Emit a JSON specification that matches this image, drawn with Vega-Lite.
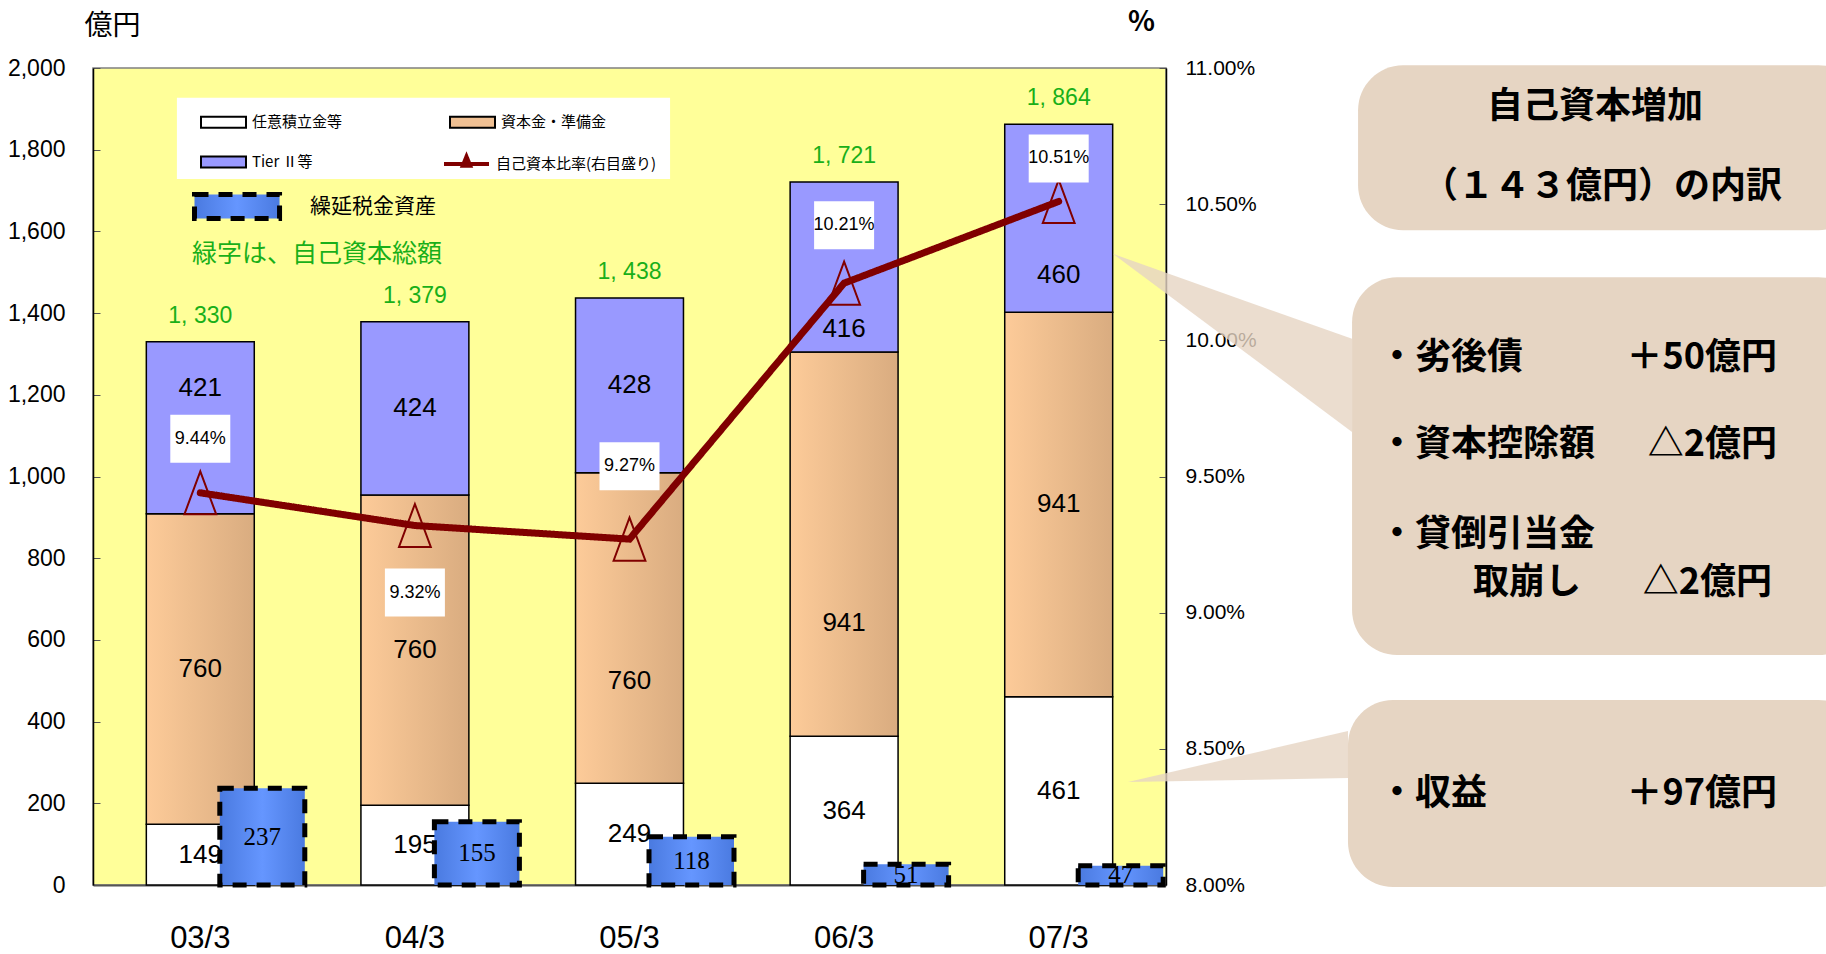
{
  "$schema": "https://vega.github.io/schema/vega-lite/v6.json",
  "width": 1073,
  "height": 817,
  "autosize": "none",
  "padding": {"left": 93, "top": 68, "right": 660, "bottom": 69},
  "config": {
    "font": "Liberation Sans, Arial, sans-serif",
    "view": {"fill": "#FFFF99", "stroke": "#808080", "strokeWidth": 1.5},
    "locale": {"number": {"decimal": ".", "thousands": ", ", "grouping": [3], "currency": ["", ""]}},
    "axis": {"grid": false, "labelColor": "black"},
    "legend": {"labelColor": "black"}
  },
  "datasets": {
    "stack": [
      {"year": "03/3", "series": "任意積立金等", "level": 1, "value": 149},
      {"year": "03/3", "series": "資本金・準備金", "level": 2, "value": 760},
      {"year": "03/3", "series": "Tier Ⅱ等", "level": 3, "value": 421},
      {"year": "04/3", "series": "任意積立金等", "level": 1, "value": 195},
      {"year": "04/3", "series": "資本金・準備金", "level": 2, "value": 760},
      {"year": "04/3", "series": "Tier Ⅱ等", "level": 3, "value": 424},
      {"year": "05/3", "series": "任意積立金等", "level": 1, "value": 249},
      {"year": "05/3", "series": "資本金・準備金", "level": 2, "value": 760},
      {"year": "05/3", "series": "Tier Ⅱ等", "level": 3, "value": 428},
      {"year": "06/3", "series": "任意積立金等", "level": 1, "value": 364},
      {"year": "06/3", "series": "資本金・準備金", "level": 2, "value": 941},
      {"year": "06/3", "series": "Tier Ⅱ等", "level": 3, "value": 416},
      {"year": "07/3", "series": "任意積立金等", "level": 1, "value": 461},
      {"year": "07/3", "series": "資本金・準備金", "level": 2, "value": 941},
      {"year": "07/3", "series": "Tier Ⅱ等", "level": 3, "value": 460}
    ],
    "years": [
      {"year": "03/3", "total": 1330, "ratio": 0.0944, "dta": 237},
      {"year": "04/3", "total": 1379, "ratio": 0.0932, "dta": 155},
      {"year": "05/3", "total": 1438, "ratio": 0.0927, "dta": 118},
      {"year": "06/3", "total": 1721, "ratio": 0.1021, "dta": 51},
      {"year": "07/3", "total": 1864, "ratio": 0.1051, "dta": 47}
    ],
    "legendbox": [
      {"x": -0.109, "x2": 2.189, "y": 1927, "y2": 1728}
    ],
    "boxes": [
      {"x": 5.395, "x2": 7.75, "y": 2007, "y2": 1603},
      {"x": 5.367, "x2": 7.75, "y": 1488, "y2": 563},
      {"x": 5.348, "x2": 7.75, "y": 453, "y2": -5}
    ],
    "wedges": [
      {"w": "a", "x": 4.253, "top": 1545, "bottom": 1545},
      {"w": "a", "x": 5.367, "top": 1337, "bottom": 1109},
      {"w": "b", "x": 4.323, "top": 252, "bottom": 252},
      {"w": "b", "x": 5.348, "top": 377, "bottom": 262}
    ],
    "heads": [
      {"text": "自己資本増加", "x": 6.499, "y": 1905},
      {"text": "（１４３億円）の内訳", "x": 6.532, "y": 1709}
    ],
    "items": [
      {"text": "・劣後債", "x": 5.493, "y": 1290},
      {"text": "・資本控除額", "x": 5.493, "y": 1077},
      {"text": "・貸倒引当金", "x": 5.493, "y": 856},
      {"text": "取崩し", "x": 5.931, "y": 740},
      {"text": "・収益", "x": 5.493, "y": 223}
    ],
    "amounts": [
      {"text": "＋50億円", "x": 7.347, "y": 1290},
      {"text": "△2億円", "x": 7.347, "y": 1077},
      {"text": "△2億円", "x": 7.324, "y": 740},
      {"text": "＋97億円", "x": 7.347, "y": 223}
    ]
  },
  "layer": [
    {
      "data": {"name": "legendbox"},
      "mark": {"type": "rect", "color": "white"},
      "encoding": {
        "x": {"field": "x", "type": "quantitative", "scale": {"domain": [-0.5, 4.5], "nice": false, "zero": false}, "axis": null},
        "x2": {"field": "x2"},
        "y": {"field": "y", "type": "quantitative", "scale": {"domain": [0, 2000], "nice": false, "zero": false}, "axis": null},
        "y2": {"field": "y2"}
      }
    },
    {
      "data": {"name": "stack"},
      "mark": {"type": "bar", "stroke": "black", "strokeWidth": 1.5, "width": {"band": 0.503}},
      "encoding": {
        "x": {
          "field": "year", "type": "nominal",
          "scale": {"paddingInner": 0, "paddingOuter": 0},
          "axis": {"title": null, "labelAngle": 0, "labelFontSize": 31, "labelPadding": 38, "ticks": false, "domainColor": "#555555", "domainWidth": 2}
        },
        "y": {
          "field": "value", "type": "quantitative", "stack": "zero",
          "scale": {"domain": [0, 2000], "nice": false},
          "axis": {
            "values": [0, 200, 400, 600, 800, 1000, 1200, 1400, 1600, 1800, 2000],
            "labelExpr": "replace(datum.label, ' ', '')",
            "labelFontSize": 23, "tickSize": -7, "tickColor": "#555555", "labelPadding": 35,
            "domainColor": "black", "domainWidth": 1.5,
            "title": "億円", "titleAngle": 0, "titleX": 19, "titleY": -42, "titleAlign": "center", "titleBaseline": "middle",
            "titleFont": "Noto Sans CJK JP", "titleFontSize": 28, "titleFontWeight": "normal", "titleColor": "black"
          }
        },
        "order": {"field": "level", "type": "quantitative", "sort": "ascending"},
        "fill": {
          "field": "series", "type": "nominal",
          "scale": {
            "domain": ["任意積立金等", "資本金・準備金", "Tier Ⅱ等"],
            "range": ["#FFFFFF", "#F0C093", "#9999FF"]
          },
          "condition": {
            "test": "datum.series === '資本金・準備金'",
            "value": {"gradient": "linear", "x1": 0, "x2": 1, "y1": 0, "y2": 0, "stops": [{"offset": 0, "color": "#FDCB99"}, {"offset": 1, "color": "#D9AC80"}]}
          },
          "legend": {
            "orient": "none", "legendX": 84, "legendY": 30, "title": null, "columns": 2, "direction": "horizontal",
            "padding": 8, "zindex": 0,
            "symbolType": "M0,-0.37H3V0.37H0Z", "symbolSize": 900, "symbolStrokeWidth": 2, "symbolStrokeColor": "black",
            "labelFont": "Noto Sans CJK JP", "labelFontSize": 15, "labelOffset": 35, "labelLimit": 400,
            "columnPadding": 91, "rowPadding": 14
          }
        }
      }
    },
    {
      "data": {"name": "years"},
      "mark": {
        "type": "bar", "width": 85, "xOffset": 62, "strokeWidth": 5, "strokeDash": [14, 10],
        "fill": {"gradient": "linear", "x1": 0, "x2": 1, "y1": 0, "y2": 0, "stops": [{"offset": 0, "color": "#4A7AE0"}, {"offset": 0.5, "color": "#6596FF"}, {"offset": 1, "color": "#4A7AE0"}]}
      },
      "encoding": {
        "x": {"field": "year", "type": "nominal", "scale": {"paddingInner": 0, "paddingOuter": 0}, "axis": null},
        "y": {"field": "dta", "type": "quantitative", "scale": {"domain": [0, 2000], "nice": false}, "axis": null},
        "stroke": {
          "datum": "繰延税金資産", "type": "nominal",
          "scale": {"range": ["black"]},
          "legend": {
            "orient": "none", "legendX": 99, "legendY": 121, "padding": 0,
            "title": "緑字は、自己資本総額", "titleOrient": "bottom", "titleColor": "#19AF19",
            "titleFont": "Noto Sans CJK JP", "titleFontSize": 25, "titleFontWeight": "normal", "titlePadding": 13, "titleLimit": 600,
            "symbolType": "M-1,-0.8H4.67V0.8H-1Z", "symbolSize": 900,
            "symbolDash": [14, 10], "symbolStrokeWidth": 5, "symbolFillColor": "#5B8DF0",
            "labelFont": "Noto Sans CJK JP", "labelFontSize": 21, "labelOffset": 83, "labelLimit": 400
          }
        }
      }
    },
    {
      "data": {"name": "years"},
      "mark": {"type": "text", "xOffset": 62, "font": "Liberation Serif, serif", "fontSize": 25, "baseline": "middle", "color": "black", "dy": {"expr": "datum.dta * 408.5 / 2000"}},
      "encoding": {
        "x": {"field": "year", "type": "nominal", "scale": {"paddingInner": 0, "paddingOuter": 0}, "axis": null},
        "y": {"field": "dta", "type": "quantitative", "scale": {"domain": [0, 2000], "nice": false}, "axis": null},
        "text": {"field": "dta", "type": "quantitative"}
      }
    },
    {
      "data": {"name": "stack"},
      "mark": {
        "type": "text", "fontSize": 26, "baseline": "middle", "color": "black",
        "dy": {"expr": "datum.value * 408.5 / 2000 + (datum.year === '03/3' && datum.level === 3 ? -40 : datum.year === '06/3' && datum.level === 3 ? 62 : datum.year === '07/3' && datum.level === 3 ? 57 : datum.year === '06/3' && datum.level === 2 ? 79 : datum.year === '05/3' && datum.level === 2 ? 53 : 0)"}
      },
      "encoding": {
        "x": {"field": "year", "type": "nominal", "scale": {"paddingInner": 0, "paddingOuter": 0}, "axis": null},
        "y": {"field": "value", "type": "quantitative", "stack": "zero", "scale": {"domain": [0, 2000], "nice": false}, "axis": null},
        "order": {"field": "level", "type": "quantitative", "sort": "ascending"},
        "detail": {"field": "series", "type": "nominal"},
        "text": {"field": "value", "type": "quantitative"}
      }
    },
    {
      "data": {"name": "years"},
      "mark": {"type": "text", "fontSize": 23, "baseline": "alphabetic", "dy": -19, "color": "#19AF19"},
      "encoding": {
        "x": {"field": "year", "type": "nominal", "scale": {"paddingInner": 0, "paddingOuter": 0}, "axis": null},
        "y": {"field": "total", "type": "quantitative", "scale": {"domain": [0, 2000], "nice": false}, "axis": null},
        "text": {"field": "total", "type": "quantitative", "format": ","}
      }
    },
    {
      "data": {"name": "years"},
      "mark": {"type": "point", "shape": "M0,-1L0.74,1L-0.74,1Z", "filled": false, "stroke": "#800000", "strokeWidth": 2, "size": 1849, "opacity": 1},
      "encoding": {
        "x": {"field": "year", "type": "nominal", "scale": {"paddingInner": 0, "paddingOuter": 0}, "axis": null},
        "y": {
          "field": "ratio", "type": "quantitative",
          "scale": {"domain": [0.08, 0.11], "nice": false, "zero": false},
          "axis": {
            "orient": "right",
            "values": [0.08, 0.085, 0.09, 0.095, 0.1, 0.105, 0.11],
            "format": ".2%", "labelFontSize": 21, "tickSize": -7, "tickColor": "#555555", "labelPadding": 26,
            "domainColor": "black", "domainWidth": 1.5,
            "title": "%", "titleAngle": 0, "titleX": -25, "titleY": -46, "titleAlign": "center", "titleBaseline": "middle",
            "titleFont": "Noto Sans CJK JP", "titleFontSize": 28, "titleFontWeight": "bold", "titleColor": "black"
          }
        }
      }
    },
    {
      "data": {"name": "years"},
      "mark": {"type": "line", "color": "#800000", "strokeWidth": 7, "strokeCap": "round"},
      "encoding": {
        "x": {"field": "year", "type": "nominal", "scale": {"paddingInner": 0, "paddingOuter": 0}, "axis": null},
        "y": {"field": "ratio", "type": "quantitative", "scale": {"domain": [0.08, 0.11], "nice": false, "zero": false}, "axis": null},
        "strokeDash": {
          "datum": "自己資本比率(右目盛り)", "type": "nominal",
          "scale": {"range": [[1, 0]]},
          "legend": {
            "orient": "none", "legendX": 334, "legendY": 79, "padding": 0, "title": null, "zindex": 1,
            "symbolType": "M0,0H3 M1.25,0.12L1.5,-0.5L1.75,0.12Z", "symbolSize": 900,
            "symbolStrokeWidth": 4, "symbolStrokeColor": "#800000", "symbolFillColor": "#800000",
            "labelFont": "Noto Sans CJK JP", "labelFontSize": 15, "labelOffset": 35, "labelLimit": 400
          }
        }
      }
    },
    {
      "data": {"name": "years"},
      "mark": {
        "type": "point", "shape": "M-1.25,-1H1.25V1H-1.25Z", "filled": true, "color": "white", "opacity": 1, "size": 2304,
        "yOffset": {"expr": "datum.year === '04/3' ? 67 : datum.year === '05/3' ? -73 : datum.year === '07/3' ? -43 : datum.year === '03/3' ? -54 : -58"}
      },
      "encoding": {
        "x": {"field": "year", "type": "nominal", "scale": {"paddingInner": 0, "paddingOuter": 0}, "axis": null},
        "y": {"field": "ratio", "type": "quantitative", "scale": {"domain": [0.08, 0.11], "nice": false, "zero": false}, "axis": null}
      }
    },
    {
      "data": {"name": "years"},
      "mark": {
        "type": "text", "fontSize": 18, "baseline": "middle", "color": "black",
        "yOffset": {"expr": "datum.year === '04/3' ? 67 : datum.year === '05/3' ? -73 : datum.year === '07/3' ? -43 : datum.year === '03/3' ? -54 : -58"}
      },
      "encoding": {
        "x": {"field": "year", "type": "nominal", "scale": {"paddingInner": 0, "paddingOuter": 0}, "axis": null},
        "y": {"field": "ratio", "type": "quantitative", "scale": {"domain": [0.08, 0.11], "nice": false, "zero": false}, "axis": null},
        "text": {"field": "ratio", "type": "quantitative", "format": ".2%"}
      }
    },
    {
      "data": {"name": "wedges"},
      "mark": {"type": "area", "color": "#E6D5C3", "opacity": 0.8, "orient": "vertical"},
      "encoding": {
        "x": {"field": "x", "type": "quantitative", "scale": {"domain": [-0.5, 4.5], "nice": false, "zero": false}, "axis": null},
        "y": {"field": "top", "type": "quantitative", "scale": {"domain": [0, 2000], "nice": false, "zero": false}, "axis": null},
        "y2": {"field": "bottom"},
        "detail": {"field": "w"}
      }
    },
    {
      "data": {"name": "boxes"},
      "mark": {"type": "rect", "color": "#E6D5C3", "cornerRadius": 45},
      "encoding": {
        "x": {"field": "x", "type": "quantitative", "scale": {"domain": [-0.5, 4.5], "nice": false, "zero": false}, "axis": null},
        "x2": {"field": "x2"},
        "y": {"field": "y", "type": "quantitative", "scale": {"domain": [0, 2000], "nice": false, "zero": false}, "axis": null},
        "y2": {"field": "y2"}
      }
    },
    {
      "data": {"name": "heads"},
      "mark": {"type": "text", "font": "Noto Sans CJK JP", "fontWeight": "bold", "fontSize": 36, "align": "center", "baseline": "middle", "color": "black"},
      "encoding": {
        "x": {"field": "x", "type": "quantitative", "scale": {"domain": [-0.5, 4.5], "nice": false, "zero": false}, "axis": null},
        "y": {"field": "y", "type": "quantitative", "scale": {"domain": [0, 2000], "nice": false, "zero": false}, "axis": null},
        "text": {"field": "text"}
      }
    },
    {
      "data": {"name": "items"},
      "mark": {"type": "text", "font": "Noto Sans CJK JP", "fontWeight": "bold", "fontSize": 36, "align": "left", "baseline": "middle", "color": "black"},
      "encoding": {
        "x": {"field": "x", "type": "quantitative", "scale": {"domain": [-0.5, 4.5], "nice": false, "zero": false}, "axis": null},
        "y": {"field": "y", "type": "quantitative", "scale": {"domain": [0, 2000], "nice": false, "zero": false}, "axis": null},
        "text": {"field": "text"}
      }
    },
    {
      "data": {"name": "amounts"},
      "mark": {"type": "text", "font": "Noto Sans CJK JP", "fontWeight": "bold", "fontSize": 36, "align": "right", "baseline": "middle", "color": "black"},
      "encoding": {
        "x": {"field": "x", "type": "quantitative", "scale": {"domain": [-0.5, 4.5], "nice": false, "zero": false}, "axis": null},
        "y": {"field": "y", "type": "quantitative", "scale": {"domain": [0, 2000], "nice": false, "zero": false}, "axis": null},
        "text": {"field": "text"}
      }
    }
  ],
  "resolve": {"scale": {"x": "independent", "y": "independent"}}
}
